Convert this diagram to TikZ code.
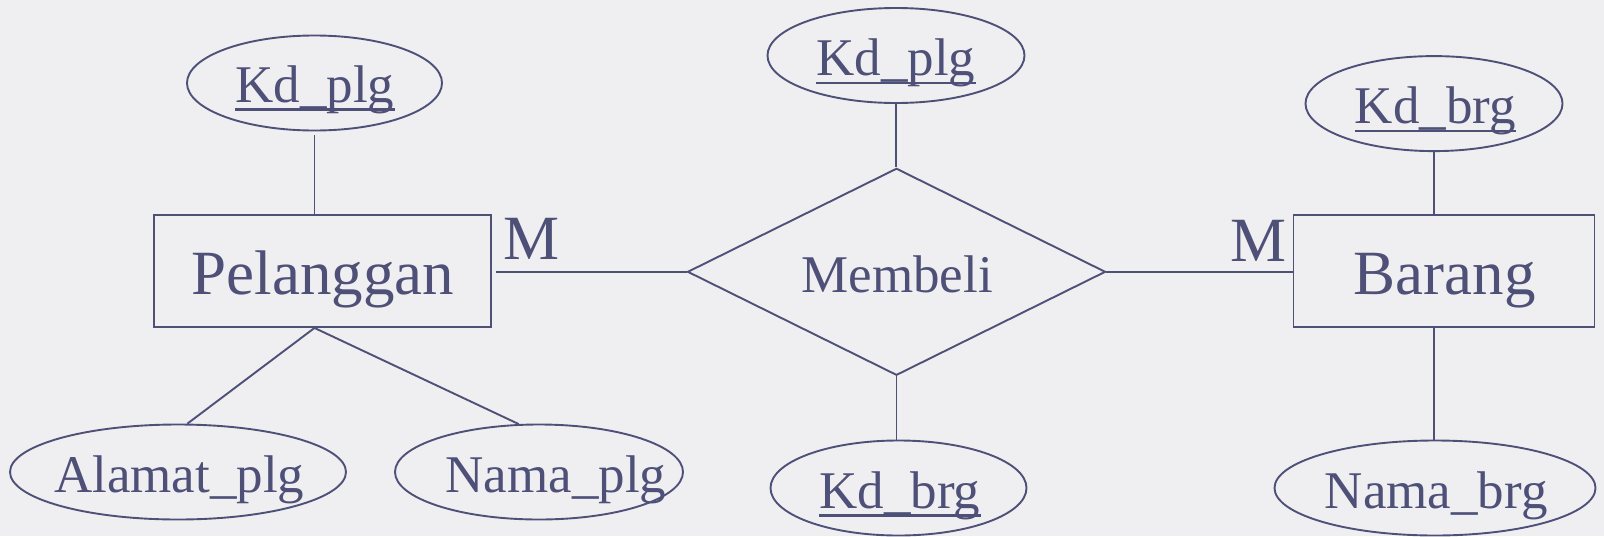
\documentclass[tikz,border=0pt]{standalone}
\usepackage{fontspec}
\setmainfont{Liberation Serif}
\usetikzlibrary{shapes.geometric}
\definecolor{ink}{HTML}{4E5078}
\definecolor{paper}{HTML}{EFEFF1}
\begin{document}
\begin{tikzpicture}[x=1pt,y=-1pt,
  conn/.style={draw=ink,line width=1.9pt},
  attr/.style={ellipse,draw=ink,line width=1.9pt,inner sep=0pt,minimum height=95pt},
  ent/.style={rectangle,draw=ink,line width=1.9pt,inner sep=0pt,minimum height=112pt},
  rel/.style={diamond,draw=ink,line width=1.9pt,inner sep=0pt},
  big/.style={text=ink,inner sep=0pt,anchor=base,font=\fontsize{63}{70}\selectfont},
  small/.style={text=ink,inner sep=0pt,anchor=base,font=\fontsize{53}{60}\selectfont},
  uline/.style={draw=ink,line width=2.6pt},
]
\fill[paper] (0,0) rectangle (1604,536);
\useasboundingbox (0,0) rectangle (1604,536);

% shapes
\node[attr,minimum width=255pt] (kd1) at (314.5,83) {};
\node[attr,minimum width=257pt] (kd2) at (896,55.5) {};
\node[attr,minimum width=256pt] (kd4) at (898.5,488) {};
\node[attr,minimum width=257pt] (kd3) at (1434,103.6) {};
\node[attr,minimum width=336pt] (alm) at (178,472) {};
\node[attr,minimum width=288pt] (nm1) at (539,472) {};
\node[attr,minimum width=321pt] (nm3) at (1435,488) {};
\node[ent,minimum width=337pt] (pel) at (322.4,271) {};
\node[ent,minimum width=301pt] (bar) at (1444,271) {};
\node[rel,minimum width=418pt,minimum height=207pt] (mem) at (896.5,271.8) {};

% texts
\node[big] (tpel) at (322.8,294) {Pelanggan};
\node[big] (tbar) at (1444.8,294) {Barang};
\node[small] (tmem) at (897.2,292.3) {Membeli};
\node[big] (m1) at (531.5,259.8) {M};
\node[big] (m2) at (1258.3,261.5) {M};
\node[small] (tkd1) at (314.8,102.6) {Kd\_plg};
\node[small] (tkd2) at (895.8,75.9) {Kd\_plg};
\node[small] (tkd4) at (900,508.4) {Kd\_brg};
\node[small] (tkd3) at (1435.3,123.8) {Kd\_brg};
\node[small] (talm) at (179.3,492.3) {Alamat\_plg};
\node[small] (tnm1) at (556,492.3) {Nama\_plg};
\node[small] (tnm3) at (1436.2,508.4) {Nama\_brg};

% underlines of keys
\foreach \t in {tkd1,tkd2,tkd4,tkd3}
  \draw[uline] ([yshift=-7pt]\t.base west) -- ([yshift=-7pt]\t.base east);

% connectors
\coordinate (pb) at (kd1.south |- pel.south);
\draw[conn,shorten <=4pt] (kd1.south) -- (kd1.south |- pel.north);
\draw[conn] (pb) -- (alm.79);
\draw[conn] (pb) -- (nm1.113);
\draw[conn,shorten <=4pt] (pel.east |- mem.west) -- (mem.west);
\draw[conn] (mem.east) -- (bar.west |- mem.east);
\draw[conn] (kd2.south) -- (kd2.south |- mem.north);
\draw[conn] (mem.south) -- (mem.south |- kd4.north);
\draw[conn] (kd3.south) -- (kd3.south |- bar.north);
\draw[conn] (kd3.south |- bar.south) -- (kd3.south |- nm3.north);
\end{tikzpicture}
\end{document}
